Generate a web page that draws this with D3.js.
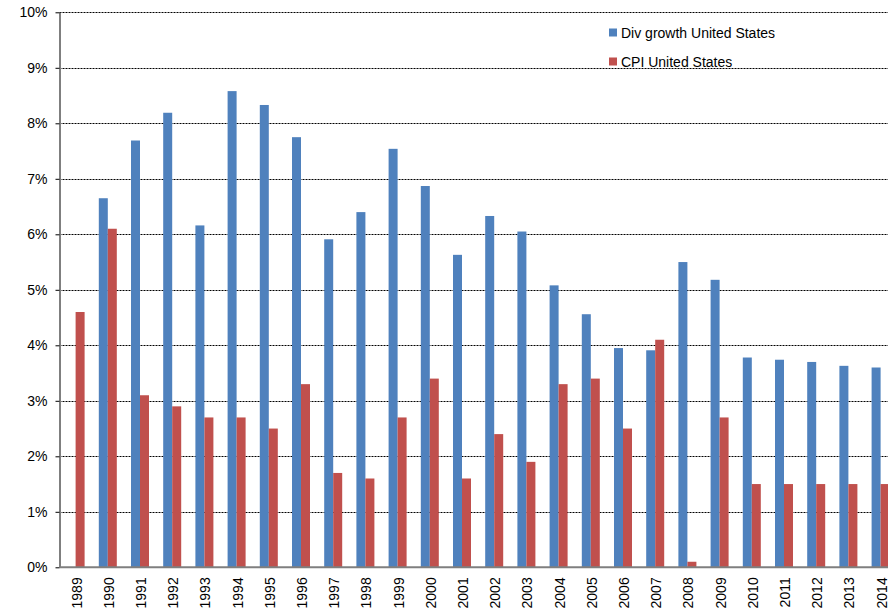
<!DOCTYPE html>
<html>
<head>
<meta charset="utf-8">
<script src="https://cdn.jsdelivr.net/npm/d3@7"></script>
<style>
  body { margin: 0; background: #fff; }
  svg { display: block; font-family: "Liberation Sans", Arial, sans-serif; }
</style>
</head>
<body>
<div id="chart"></div>
<script>
// Dividend growth vs CPI, United States
var years = ["1989","1990","1991","1992","1993","1994","1995","1996","1997","1998","1999","2000","2001",
             "2002","2003","2004","2005","2006","2007","2008","2009","2010","2011","2012","2013","2014"];
var divGrowth = [null, 6.65, 7.69, 8.19, 6.16, 8.58, 8.33, 7.75, 5.91, 6.40, 7.54, 6.87, 5.63,
                 6.33, 6.05, 5.08, 4.56, 3.95, 3.91, 5.50, 5.18, 3.78, 3.74, 3.70, 3.63, 3.60];
var cpi = [4.6, 6.1, 3.1, 2.9, 2.7, 2.7, 2.5, 3.3, 1.7, 1.6, 2.7, 3.4, 1.6,
           2.4, 1.9, 3.3, 3.4, 2.5, 4.1, 0.1, 2.7, 1.5, 1.5, 1.5, 1.5, 1.5];
var seriesNames = ["Div growth United States", "CPI United States"];
var seriesColors = ["#4F81BD", "#C0504D"];
var yTicks = [0, 1, 2, 3, 4, 5, 6, 7, 8, 9, 10];

var width = 888, height = 614;
var plot = {left: 59.5, right: 896.7, top: 12.3, bottom: 567.3};

var rows = years.map(function(y, i) {
  return {year: y, values: [divGrowth[i], cpi[i]]};
});

var svg = d3.select("#chart").append("svg")
    .attr("width", width)
    .attr("height", height);

var x = d3.scaleBand().domain(years).range([plot.left, plot.right]);
var bw = x.bandwidth();
var barW = 9;
var xs = d3.scaleBand().domain(d3.range(seriesNames.length))
    .range([bw / 2 - barW, bw / 2 + barW]);
var y = d3.scaleLinear().domain([0, 10]).range([plot.bottom, plot.top]);

// gridlines (dotted)
svg.append("g").selectAll("line")
  .data(yTicks.filter(function(d){ return d > 0; }))
  .enter().append("line")
    .attr("x1", plot.left).attr("x2", plot.right)
    .attr("y1", function(d){ return Math.round(y(d)) + 0.5; })
    .attr("y2", function(d){ return Math.round(y(d)) + 0.5; })
    .style("stroke", "#000")
    .style("stroke-width", 1)
    .style("stroke-dasharray", "2,1");

// bars
var groups = svg.append("g").selectAll("g")
  .data(rows)
  .enter().append("g")
    .attr("transform", function(d){ return "translate(" + x(d.year) + ",0)"; });

groups.selectAll("rect")
  .data(function(d){ return d.values.map(function(v, j){ return {v: v, s: j}; })
                       .filter(function(e){ return e.v != null; }); })
  .enter().append("rect")
    .attr("x", function(d){ return xs(d.s); })
    .attr("width", xs.bandwidth())
    .attr("y", function(d){ return y(d.v); })
    .attr("height", function(d){ return y(0) - y(d.v); })
    .style("fill", function(d){ return seriesColors[d.s]; });

// y axis
var yAxis = d3.axisLeft(y)
    .tickValues(yTicks)
    .tickFormat(function(d){ return d + "%"; })
    .tickSizeInner(4).tickSizeOuter(0)
    .tickPadding(8);

var gy = svg.append("g")
    .attr("transform", "translate(" + plot.left + ",0)")
    .call(yAxis);
gy.select(".domain").style("stroke", "#7f7f7f").style("stroke-width", 2);
gy.selectAll(".tick line").style("stroke", "#000");
gy.selectAll(".tick text")
    .style("font-size", "14px")
    .style("fill", "#000")
    .style("font-family", "Liberation Sans, Arial, sans-serif");

// x axis baseline
svg.append("line")
    .attr("x1", plot.left).attr("x2", plot.right)
    .attr("y1", plot.bottom).attr("y2", plot.bottom)
    .style("stroke", "#7f7f7f").style("stroke-width", 2);

// x labels (rotated)
svg.append("g").selectAll("text")
  .data(years)
  .enter().append("text")
    .attr("transform", function(d){ return "translate(" + (x(d) + bw / 2 + 6) + "," + (plot.bottom + 10) + ") rotate(-90)"; })
    .attr("text-anchor", "end")
    .style("font-size", "14px")
    .style("fill", "#000")
    .text(function(d){ return d; });

// legend
var legend = svg.append("g").selectAll("g")
  .data(seriesNames)
  .enter().append("g")
    .attr("transform", function(d, i){ return "translate(609," + (28.5 + i * 29) + ")"; });
legend.append("rect")
    .attr("width", 8).attr("height", 8)
    .style("fill", function(d, i){ return seriesColors[i]; });
legend.append("text")
    .attr("x", 12).attr("y", 9.5)
    .style("font-size", "14px")
    .style("fill", "#000")
    .text(function(d){ return d; });
</script>
</body>
</html>
